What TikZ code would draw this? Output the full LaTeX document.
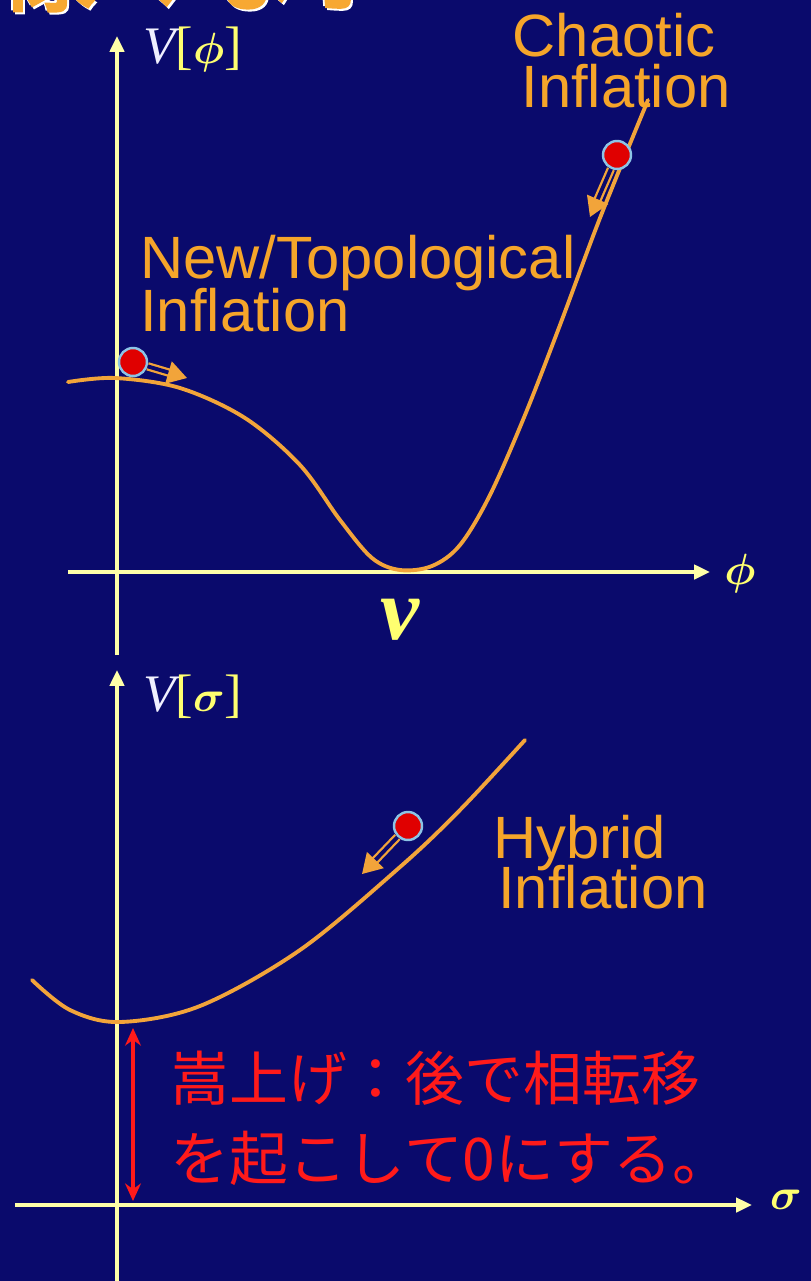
\documentclass[tikz,border=0pt]{standalone}
\usepackage{fontspec}
\usepackage{bm}
\setmainfont{Liberation Sans}
\newfontfamily\seriffont{Liberation Serif}
\newfontfamily\cjk{Noto Sans CJK JP}
\newfontfamily\cjkb[FakeBold=3]{Noto Sans CJK JP}
\usetikzlibrary{arrows.meta}
\definecolor{bg}{HTML}{0A0A6C}
\definecolor{axiscol}{HTML}{FFFFA8}
\definecolor{curvecol}{HTML}{F2A43A}
\definecolor{labelcol}{HTML}{F5A52A}
\definecolor{redtxt}{HTML}{FF1A1A}
\definecolor{ballred}{HTML}{E00000}
\definecolor{ballrim}{HTML}{8CC4E6}
\definecolor{symcol}{HTML}{FFFF70}
\definecolor{vcol}{HTML}{F0F0FF}
\definecolor{titlecol}{HTML}{F7A832}
\tikzset{
  axisline/.style={draw=axiscol, line width=2.2pt, -{Triangle[length=9pt,width=8pt]}},
  potcurve/.style={draw=curvecol, line width=2.2pt, line cap=round},
  lbl/.style={text=labelcol, inner sep=0pt, font=\fontsize{34}{34}\selectfont},
  jtxt/.style={text=redtxt, inner sep=0pt, font=\cjk\fontsize{33.5}{33.5}\selectfont},
  ball/.style={circle, fill=ballred, draw=ballrim, line width=1.4pt, minimum size=0.56cm, inner sep=0pt},
  hollow/.style={draw=curvecol, double=bg, double distance=2.2pt, line width=1.3pt, -{Triangle[length=11pt,width=13pt]}},
  redarrow/.style={draw=redtxt, line width=1.8pt, {Stealth[length=10pt,width=9pt]}-{Stealth[length=10pt,width=9pt]}},
  axlabel/.style={inner sep=0pt, text=symcol},
  titletext/.style={inner sep=0pt, anchor=base west, font=\cjkb\fontsize{57}{57}\selectfont}
}
\begin{document}
\begin{tikzpicture}[x=0.02cm,y=-0.02cm]
\fill[bg] (0,0) rectangle (811,1281);
\useasboundingbox (0,0) rectangle (811,1281);

% clipped title fragment
\begin{scope}
\clip (0,0) rectangle (811,22);
\node[titletext, text=white] (tw1) at (-7,1) {様々なポ};
\node[titletext, text=white] (tw2) at (-3,5) {様々なポ};
\node[titletext, text=titlecol] (tt) at (-5,3) {様々なポ};
\end{scope}

% ---------- top graph ----------
\coordinate (ty0) at (117,655);
\coordinate (ty1) at (117,36);
\coordinate (tx0) at (68,572);
\coordinate (tx1) at (710,572);
\draw[axisline] (ty0) -- (ty1);
\draw[axisline] (tx0) -- (tx1);

\draw[potcurve] plot[smooth, tension=0.55] coordinates {
 (68,382) (115,378) (180,388) (245,418) (300,465) (340,520) (372,558) (400,570)
 (432,566) (460,545) (490,495) (525,415) (560,325) (600,218) (648,100)};

\node[axlabel, anchor=base west] (Vphi) at (143,63)
  {\fontsize{30}{30}\selectfont{\seriffont\itshape\color{vcol}V}{\seriffont[}$\bm{\phi}${\seriffont]}};
\node[axlabel] (phi) at (740,574) {\fontsize{38}{38}\selectfont$\bm{\phi}$};
\node[axlabel] (vlab) at (400,620) {\seriffont\bfseries\itshape\fontsize{50}{50}\selectfont v};

\node[lbl, anchor=base] (ch1) at (614,56) {Chaotic};
\node[lbl, anchor=base] (ch2) at (626,107) {Inflation};
\node[lbl, anchor=base west] (nt1) at (140,278) {New/Topological};
\node[lbl, anchor=base west] (nt2) at (140,331) {Inflation};

\node[ball] (b1) at (133,362) {};
\coordinate (a1) at (187,378);
\draw[hollow] (b1) -- (a1);

\node[ball] (b2) at (617,155) {};
\coordinate (a2) at (590,217);
\draw[hollow] (b2) -- (a2);

% ---------- bottom graph ----------
\coordinate (by0) at (117,1290);
\coordinate (by1) at (117,670);
\coordinate (bx0) at (15,1205);
\coordinate (bx1) at (752,1205);
\draw[axisline] (by0) -- (by1);
\draw[axisline] (bx0) -- (bx1);

\draw[potcurve] plot[smooth, tension=0.55] coordinates {
 (32,980) (70,1010) (120,1022) (200,1006) (300,950) (400,867) (460,810) (525,740)};

\node[axlabel, anchor=base west] (Vsig) at (143,711)
  {\fontsize{30}{30}\selectfont{\seriffont\itshape\color{vcol}V}{\seriffont[}$\bm{\sigma}${\seriffont]}};
\node[axlabel] (sig) at (786,1200) {\fontsize{46}{46}\selectfont$\bm{\sigma}$};

\node[lbl, anchor=base west] (hy1) at (493,858) {Hybrid};
\node[lbl, anchor=base west] (hy2) at (498,908) {Inflation};

\node[ball] (b3) at (408,826) {};
\coordinate (a3) at (362,874);
\draw[hollow] (b3) -- (a3);

\coordinate (r0) at (133,1028);
\coordinate (r1) at (133,1201);
\draw[redarrow] (r0) -- (r1);

\node[jtxt, anchor=base west] (j1) at (170,1100) {嵩上げ：後で相転移};
\node[jtxt, anchor=base west] (j2) at (170,1180) {を起こして0にする。};
\end{tikzpicture}
\end{document}
